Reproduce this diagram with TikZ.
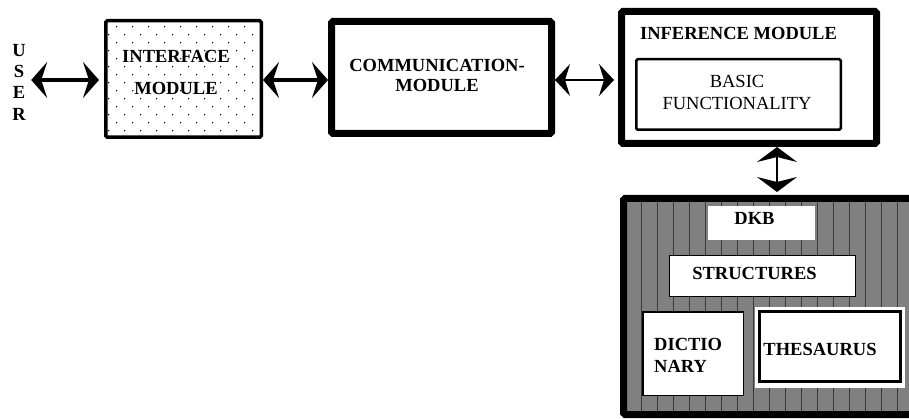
\documentclass[tikz,border=0pt]{standalone}
\usepackage{fontspec}
\setmainfont{Liberation Serif}
\usetikzlibrary{arrows.meta}
\begin{document}
\begin{tikzpicture}[x=1pt,y=-1pt,
  boxs/.style={draw=black, inner sep=0pt, rounded corners=1.5pt},
  lbl/.style={font=\fontsize{18.5}{22}\selectfont\bfseries, inner sep=0pt, align=center},
  lblr/.style={font=\fontsize{18.5}{22}\selectfont, inner sep=0pt, align=center},
  bigarr/.style={line width=4pt, {Stealth[length=16pt,width=36pt,inset=6pt]}-{Stealth[length=16pt,width=36pt,inset=6pt]}},
  thinarr/.style={line width=1.5pt, {Stealth[length=15pt,width=32pt,inset=5pt]}-{Stealth[length=15pt,width=32pt,inset=5pt]}},
  vertarr/.style={line width=2pt, {Stealth[length=15pt,width=40pt,inset=5pt]}-{Stealth[length=15pt,width=40pt,inset=5pt]}},
  pat/.style={fill=black!50},
  patline/.style={draw=black!78, line width=1pt}
]
\useasboundingbox (0,0) rectangle (909,419);
\fill[white] (0,0) rectangle (909,419);

% USER
\node[lbl, font=\fontsize{18.5}{21.3}\selectfont\bfseries, inner xsep=5.3pt, inner ysep=0pt] (user) at (19,82) {U\\S\\E\\R};

% interface module with dotted fill
\begin{scope}
  \clip (107.5,22.5) rectangle (259.5,135.5);
  \foreach \j in {0,...,14} {
    \foreach \i in {-1,...,10} {
      \fill ({116.7+16*\i+8*mod(\j,2)},{26.7+8*\j}) circle (0.8);
    }
  }
\end{scope}
\node[boxs, line width=3.5pt, minimum width=155.5pt, minimum height=116.5pt] (iface) at (183.5,79) {};
\node[lbl] (ifacet) at (176,72.7) {INTERFACE\\[9.5pt]MODULE};

% communication module
\node[boxs, line width=7pt, minimum width=220pt, minimum height=112pt] (comm) at (441.5,77.5) {};
\node[lbl, font=\fontsize{18.5}{20}\selectfont\bfseries] (commt) at (437,75) {COMMUNICATION-\\MODULE};

% inference module
\node[boxs, line width=7pt, minimum width=255pt, minimum height=132pt] (inf) at (749,77.5) {};
\node[lbl] (inft) at (738.5,33) {INFERENCE MODULE};
\node[boxs, line width=2.5pt, minimum width=204.5pt, minimum height=70.5pt] (basic) at (738.5,94.5) {};
\node[lblr] (basict) at (737,92) {BASIC\\FUNCTIONALITY};

% DKB
\node[boxs, pat, line width=7pt, minimum width=289pt, minimum height=216pt] (dkb) at (768,306.5) {};
\begin{scope}
  \clip (627,202) rectangle (916,411);
  \foreach \k in {1,...,17} {
    \draw[patline] ({625.7+16*\k},195) -- ({625.7+16*\k},418);
  }
\end{scope}
\node[fill=white, inner sep=0pt, minimum width=107pt, minimum height=34pt] (dkbw) at (761.5,223) {};
\node[lbl] (dkbt) at (754.5,218) {DKB};
\node[boxs, fill=white, rounded corners=0pt, line width=1pt, minimum width=186pt, minimum height=41pt] (struct) at (762.5,276) {};
\node[lbl] (structt) at (754.5,273) {STRUCTURES};
\node[boxs, fill=white, rounded corners=0pt, line width=1.5pt, minimum width=100.5pt, minimum height=83.5pt] (dict) at (693,353.5) {};
\node[lbl, align=left, anchor=west] (dictt) at (654,355.5) {DICTIO\\NARY};
\node[fill=white, inner sep=0pt, minimum width=150pt, minimum height=81pt] (thesw) at (830,347.5) {};
\node[boxs, fill=white, rounded corners=0pt, line width=3pt, minimum width=141pt, minimum height=70pt] (thes) at (830,346.5) {};
\node[lbl] (thest) at (820,349.5) {THESAURUS};

% connectors
\coordinate (ay) at (0,80);
\coordinate (ax) at (777,0);
\draw[bigarr, shorten >=5pt] (user.east |- ay) -- (iface.west |- ay);
\draw[bigarr] (iface.east |- ay) -- (comm.west |- ay);
\draw[thinarr, shorten >=4pt] (comm.east |- ay) -- (inf.west |- ay);
\draw[vertarr, shorten >=3pt] (inf.south -| ax) -- (dkb.north -| ax);
\end{tikzpicture}
\end{document}
